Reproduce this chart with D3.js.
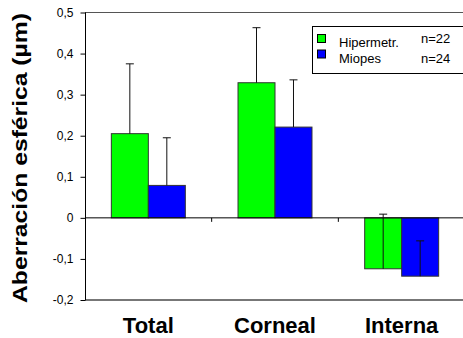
<!DOCTYPE html>
<html><head><meta charset="utf-8">
<script src="https://cdn.jsdelivr.net/npm/d3@7"></script>
<style>body{margin:0;background:#fff}svg{display:block}text{font-family:"Liberation Sans",Arial,sans-serif}</style>
</head><body><svg id="c" width="463" height="338"></svg>
<script>
const categories = ["Total", "Corneal", "Interna"];
const seriesNames = ["Hipermetr.", "Miopes"];
const seriesN = ["n=22", "n=24"];
const hiperValues = [0.205, 0.329, -0.124];
const hiperErrors = [0.170, 0.134, 0.133];
const miopesValues = [0.079, 0.221, -0.142];
const miopesErrors = [0.116, 0.115, 0.086];
const yTicks = [-0.2, -0.1, 0, 0.1, 0.2, 0.3, 0.4, 0.5];
const colors = ["#00ff00", "#0000ff"];

const svg = d3.select("#c");
const x = d3.scaleBand().domain(categories).range([85, 465]).paddingInner(0.416).paddingOuter(0.208);
const xs = d3.scaleBand().domain(seriesNames).range([0, x.bandwidth()]);
const y = d3.scaleLinear().domain([-0.2, 0.5]).range([300, 12.5]);

const fmt = v => v === 0 ? "0" : d3.format(".1f")(v).replace(".", ",").replace("−", "-");

// frame lines
svg.append("line").attr("x1", 85).attr("x2", 463).attr("y1", y(0.5)).attr("y2", y(0.5)).attr("stroke", "#555").attr("stroke-width", 1);
svg.append("line").attr("x1", 85).attr("x2", 463).attr("y1", y(-0.2)).attr("y2", y(-0.2)).attr("stroke", "#777").attr("stroke-width", 2);

// y axis
const yAxis = d3.axisLeft(y).tickValues(yTicks).tickFormat(fmt).tickSize(5).tickPadding(7);
const ga = svg.append("g").attr("transform", "translate(85.5,0)").call(yAxis);
ga.select(".domain").attr("stroke", "#000").attr("d", `M0,${y(0.5)}V${y(-0.2)}`);
ga.selectAll(".tick line").attr("stroke", "#000");
ga.selectAll(".tick text").attr("font-size", 12).attr("fill", "#000").style("font-family", "'Liberation Sans',Arial,sans-serif");

// bars
const data = [];
categories.forEach((c, i) => {
  data.push({cat: c, s: seriesNames[0], v: hiperValues[i], e: hiperErrors[i], col: colors[0]});
  data.push({cat: c, s: seriesNames[1], v: miopesValues[i], e: miopesErrors[i], col: colors[1]});
});
svg.selectAll("rect.bar").data(data).join("rect").attr("class", "bar")
  .attr("x", d => x(d.cat) + xs(d.s))
  .attr("width", xs.bandwidth())
  .attr("y", d => y(Math.max(0, d.v)))
  .attr("height", d => Math.abs(y(d.v) - y(0)))
  .attr("fill", d => d.col).attr("stroke", "#333").attr("stroke-width", 1);

// zero line
svg.append("line").attr("x1", 85).attr("x2", 463).attr("y1", y(0)).attr("y2", y(0)).attr("stroke", "#000");
// category tick marks on zero line
svg.selectAll("line.ct").data(categories.slice(1)).join("line").attr("class", "ct")
  .attr("x1", d => x(d) - x.step() * 0.208).attr("x2", d => x(d) - x.step() * 0.208)
  .attr("y1", y(0)).attr("y2", y(0) + 4).attr("stroke", "#000");

// error bars (plus direction)
const eb = svg.selectAll("g.eb").data(data).join("g").attr("class", "eb");
eb.append("line")
  .attr("x1", d => x(d.cat) + xs(d.s) + xs.bandwidth() / 2)
  .attr("x2", d => x(d.cat) + xs(d.s) + xs.bandwidth() / 2)
  .attr("y1", d => y(d.v)).attr("y2", d => y(d.v + d.e))
  .attr("stroke", "#111").attr("stroke-width", 1);
eb.append("line")
  .attr("x1", d => x(d.cat) + xs(d.s) + xs.bandwidth() / 2 - 4)
  .attr("x2", d => x(d.cat) + xs(d.s) + xs.bandwidth() / 2 + 4)
  .attr("y1", d => y(d.v + d.e)).attr("y2", d => y(d.v + d.e))
  .attr("stroke", "#111").attr("stroke-width", 1);

// x labels
svg.selectAll("text.xl").data(categories).join("text").attr("class", "xl")
  .attr("x", d => x(d) + x.bandwidth() / 2).attr("y", 333)
  .attr("text-anchor", "middle").attr("font-size", 22).attr("font-weight", "bold").text(d => d);

// y title
svg.append("text").attr("transform", "translate(27,158) rotate(-90)")
  .attr("text-anchor", "middle").attr("font-size", 21).attr("font-weight", "bold")
  .attr("textLength", 290).attr("lengthAdjust", "spacingAndGlyphs")
  .text("Aberración esférica  (µm)");

// legend
const lg = svg.append("g");
lg.append("rect").attr("x", 312.5).attr("y", 26.5).attr("width", 170).attr("height", 47).attr("fill", "#fff").attr("stroke", "#000");
seriesNames.forEach((s, i) => {
  const yy = 34 + i * 15.5;
  lg.append("rect").attr("x", 317.5).attr("y", yy + 0.5).attr("width", 8).attr("height", 8).attr("fill", colors[i]).attr("stroke", "#000");
  lg.append("text").attr("x", 339).attr("y", yy + 13).attr("font-size", 13).text(s);
  lg.append("text").attr("x", 421).attr("y", yy + (i === 0 ? 9 : 13)).attr("font-size", 13).text(seriesN[i]);
});
</script></body></html>
